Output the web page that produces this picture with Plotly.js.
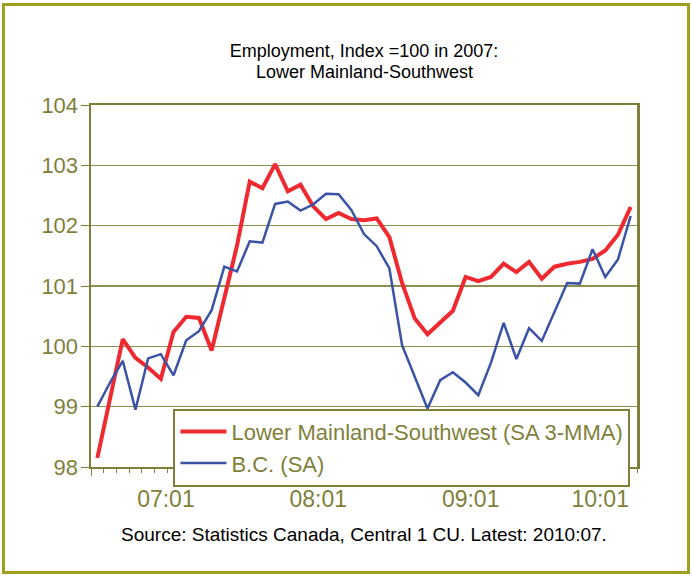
<!DOCTYPE html>
<html>
<head>
<meta charset="utf-8">
<script src="https://cdn.plot.ly/plotly-3.0.1.min.js"></script>
<style>
  html, body { margin: 0; padding: 0; background: #ffffff; }
  #wrap { position: relative; width: 692px; height: 576px; }
  #chart { position: absolute; left: 0; top: 0; width: 692px; height: 576px; }
  #frame { position: absolute; left: 2px; top: 3px; width: 688px; height: 571px;
           border: 3px solid #A0A01E; box-sizing: border-box; pointer-events: none; }
</style>
</head>
<body>
<div id="wrap"><div id="chart"></div><div id="frame"></div></div>
<script>
// Monthly observations, 2007:01 .. 2010:07
const seriesNames = ['Lower Mainland-Southwest (SA 3-MMA)', 'B.C. (SA)'];
const lowerMainland = [
  98.15, 99.15, 100.12, 99.81, 99.65, 99.46, 100.24, 100.49, 100.47, 99.93,
  100.78, 101.67, 102.73, 102.62, 103.02, 102.57, 102.68, 102.32, 102.11, 102.21,
  102.11, 102.09, 102.12, 101.81, 101.05, 100.46, 100.20, 100.39, 100.59, 101.15,
  101.08, 101.15, 101.37, 101.23, 101.40, 101.12, 101.32, 101.37, 101.40, 101.45,
  101.59, 101.85, 102.31
];
const bc = [
  99.00, 99.40, 99.76, 98.95, 99.80, 99.87, 99.52, 100.10, 100.25, 100.60,
  101.32, 101.24, 101.74, 101.72, 102.36, 102.40, 102.25, 102.35, 102.53, 102.52,
  102.26, 101.86, 101.66, 101.29, 100.02, 99.51, 98.97, 99.44, 99.57, 99.40,
  99.19, 99.73, 100.39, 99.79, 100.30, 100.09, 100.58, 101.05, 101.04, 101.61,
  101.15, 101.44, 102.16
];
const tickLabels = ['07:01', '08:01', '09:01', '10:01'];
const tickLabelPos = [5.4, 17.4, 29.4, 39.6];
const yearBoundaries = [-0.5, 11.5, 23.5, 35.5];
const titleLines = ['Employment, Index =100 in 2007:', 'Lower Mainland-Southwest'];
const sourceText = 'Source: Statistics Canada, Central 1 CU. Latest: 2010:07.';

const idx = lowerMainland.map((_, i) => i);
const olive = '#7F7F3A';
const fontFam = '"Liberation Sans", Arial, sans-serif';

const traces = [
  { x: idx, y: lowerMainland, name: seriesNames[0], type: 'scatter', mode: 'lines',
    line: { color: '#EE2A30', width: 4 } },
  { x: idx, y: bc, name: seriesNames[1], type: 'scatter', mode: 'lines',
    line: { color: '#3A53A4', width: 2.5 } },
  // empty trace carrying the overlay axes used for tick marks
  { x: [], y: [], xaxis: 'x2', yaxis: 'y2', type: 'scatter', mode: 'lines',
    showlegend: false, hoverinfo: 'skip' }
];

const xr = [-0.5, idx.length - 0.5];
const yr = [98, 104];

const layout = {
  width: 692, height: 576,
  margin: { l: 91, r: 55, t: 105, b: 109 },
  paper_bgcolor: '#ffffff', plot_bgcolor: '#ffffff',
  font: { family: fontFam, color: olive },
  showlegend: true,
  title: {
    text: titleLines[0],
    font: { family: fontFam, size: 18, color: '#000000' },
    x: 0.5, xref: 'paper', xanchor: 'center',
    y: 1 - 51 / 576, yref: 'container', yanchor: 'middle'
  },
  xaxis: {
    range: xr, fixedrange: true,
    showgrid: false, zeroline: false,
    showline: true, linecolor: olive, linewidth: 2, mirror: true,
    tickmode: 'array', tickvals: tickLabelPos, ticktext: tickLabels,
    ticks: '', ticklabelstandoff: 10,
    tickfont: { family: fontFam, size: 23, color: olive },
    minor: { tickmode: 'linear', tick0: -0.5, dtick: 1, ticks: 'outside',
             ticklen: 4, tickwidth: 1, tickcolor: olive, showgrid: false }
  },
  xaxis2: {
    overlaying: 'x', anchor: 'y', side: 'bottom',
    range: xr, fixedrange: true,
    showgrid: false, zeroline: false, showline: false,
    tickmode: 'array', tickvals: yearBoundaries,
    ticks: 'outside', ticklen: 8, tickwidth: 1, tickcolor: olive,
    showticklabels: false
  },
  yaxis: {
    range: yr, fixedrange: true,
    tickmode: 'linear', tick0: 98, dtick: 1,
    showgrid: true, gridcolor: '#8E8E4E', gridwidth: 1.3,
    zeroline: false,
    showline: true, linecolor: olive, linewidth: 2.5, mirror: true,
    ticks: '', ticklabelstandoff: 6,
    tickfont: { family: fontFam, size: 22, color: olive }
  },
  yaxis2: {
    overlaying: 'y', anchor: 'x', side: 'left',
    range: yr, fixedrange: true,
    tickmode: 'linear', tick0: 98, dtick: 1,
    showgrid: false, zeroline: false, showline: false,
    ticks: 'outside', ticklen: 9, tickwidth: 1, tickcolor: olive,
    showticklabels: false
  },
  legend: {
    x: 0.151, xanchor: 'left', y: 0.161, yanchor: 'top',
    bgcolor: '#ffffff', bordercolor: olive, borderwidth: 2,
    font: { family: fontFam, size: 22, color: olive },
    itemwidth: 46,
    tracegroupgap: 0
  },
  annotations: [
    {
      text: titleLines[1],
      xref: 'paper', yref: 'paper', x: 0.5, xanchor: 'center',
      y: 1 + (105.3 - 72) / 361.4, yanchor: 'middle', showarrow: false,
      font: { family: fontFam, size: 18, color: '#000000' }
    },
    {
      text: sourceText,
      xref: 'paper', yref: 'paper', x: 0.5, xanchor: 'center',
      y: -(534 - 466.7) / 361.4, yanchor: 'middle', showarrow: false,
      font: { family: fontFam, size: 19, color: '#000000' }
    }
  ]
};

Plotly.newPlot('chart', traces, layout, { displayModeBar: false, staticPlot: true });
</script>
</body>
</html>
